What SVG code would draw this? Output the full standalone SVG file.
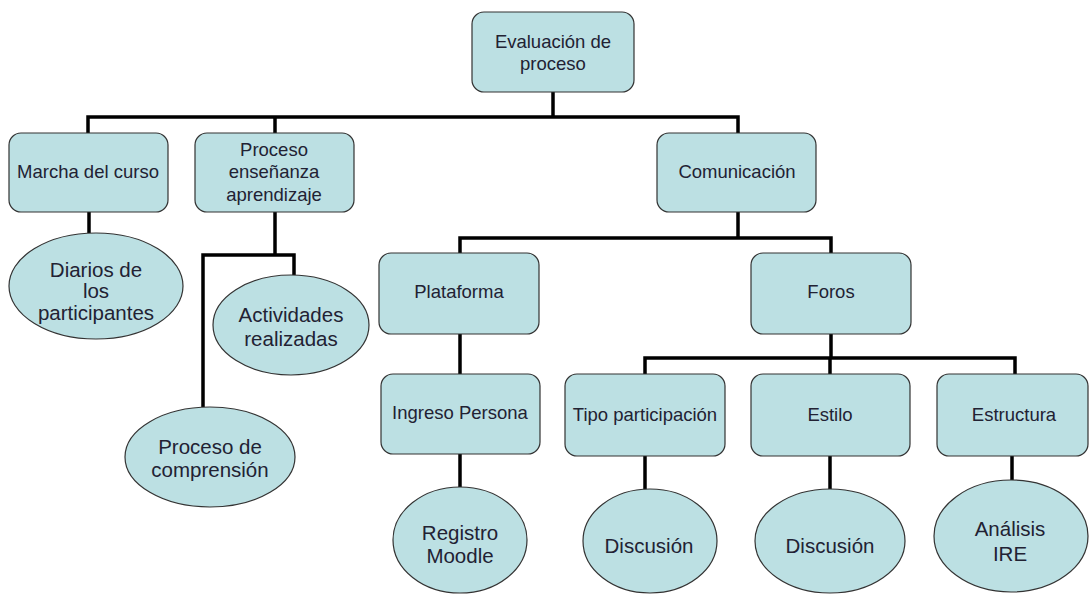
<svg xmlns="http://www.w3.org/2000/svg" width="1090" height="595" viewBox="0 0 1090 595">
  <style>
    .box { fill: #bce0e3; stroke: #333333; stroke-width: 1.2; }
    .ell { fill: #bce0e3; stroke: #333333; stroke-width: 1.2; }
    .t { font-family: "Liberation Sans", Arial, sans-serif; font-size: 18.5px; fill: #222233; text-anchor: middle; }
    .te { font-family: "Liberation Sans", Arial, sans-serif; font-size: 20.5px; fill: #222233; text-anchor: middle; }
    .conn { fill: none; stroke: #000000; stroke-width: 3.5; stroke-linejoin: miter; stroke-linecap: butt; }
  </style>
  <rect width="1090" height="595" fill="#ffffff"/>

  <!-- connectors -->
  <g id="connectors" class="conn">
    <path d="M553,92 V117"/>
    <path d="M88,133 V117 H738 V133"/>
    <path d="M275,117 V133"/>
    <path d="M89,212 V233"/>
    <path d="M275,212 V255"/>
    <path d="M203,407 V255 H294 V275"/>
    <path d="M738,212 V238"/>
    <path d="M460,253 V238 H831 V253"/>
    <path d="M460,334 V374"/>
    <path d="M460,454 V487"/>
    <path d="M831,334 V358"/>
    <path d="M645,374 V358 H1015 V374"/>
    <path d="M830,358 V374"/>
    <path d="M645,456 V490"/>
    <path d="M830,456 V490"/>
    <path d="M1012,456 V480"/>
  </g>

  <!-- root -->
  <g id="evaluacion">
    <rect class="box" x="472" y="12" width="162" height="80" rx="12"/>
    <text class="t" x="553" y="48">Evaluación de</text>
    <text class="t" x="553" y="70">proceso</text>
  </g>

  <!-- first level -->
  <g id="marcha">
    <rect class="box" x="9" y="133" width="159" height="79" rx="12"/>
    <text class="t" x="88" y="178">Marcha del curso</text>
  </g>
  <g id="proceso-ea">
    <rect class="box" x="195" y="133" width="159" height="79" rx="12"/>
    <text class="t" x="274" y="156">Proceso</text>
    <text class="t" x="274" y="178">enseñanza</text>
    <text class="t" x="274" y="201">aprendizaje</text>
  </g>
  <g id="comunicacion">
    <rect class="box" x="657" y="133" width="159" height="79" rx="12"/>
    <text class="t" x="737" y="178">Comunicación</text>
  </g>

  <!-- leaves under Marcha / Proceso -->
  <g id="diarios">
    <ellipse class="ell" cx="96" cy="286" rx="87" ry="53"/>
    <text class="te" x="96" y="277">Diarios de</text>
    <text class="te" x="96" y="298">los</text>
    <text class="te" x="96" y="320">participantes</text>
  </g>
  <g id="actividades">
    <ellipse class="ell" cx="291" cy="325" rx="78" ry="50"/>
    <text class="te" x="291" y="322">Actividades</text>
    <text class="te" x="291" y="346">realizadas</text>
  </g>
  <g id="comprension">
    <ellipse class="ell" cx="210" cy="457" rx="85" ry="50"/>
    <text class="te" x="210" y="454">Proceso de</text>
    <text class="te" x="210" y="477">comprensión</text>
  </g>

  <!-- Comunicación branch -->
  <g id="plataforma">
    <rect class="box" x="379" y="253" width="160" height="81" rx="12"/>
    <text class="t" x="459" y="298">Plataforma</text>
  </g>
  <g id="foros">
    <rect class="box" x="751" y="253" width="160" height="81" rx="12"/>
    <text class="t" x="831" y="298">Foros</text>
  </g>
  <g id="ingreso">
    <rect class="box" x="381" y="374" width="159" height="80" rx="12"/>
    <text class="t" x="460" y="419">Ingreso Persona</text>
  </g>
  <g id="registro">
    <ellipse class="ell" cx="460" cy="540" rx="67" ry="53"/>
    <text class="te" x="460" y="540">Registro</text>
    <text class="te" x="460" y="563">Moodle</text>
  </g>

  <!-- Foros branch -->
  <g id="tipo">
    <rect class="box" x="565" y="374" width="160" height="82" rx="12"/>
    <text class="t" x="645" y="421">Tipo participación</text>
  </g>
  <g id="estilo">
    <rect class="box" x="751" y="374" width="159" height="82" rx="12"/>
    <text class="t" x="830" y="421">Estilo</text>
  </g>
  <g id="estructura">
    <rect class="box" x="937" y="374" width="151" height="82" rx="12"/>
    <text class="t" x="1014" y="421">Estructura</text>
  </g>
  <g id="discusion-1">
    <ellipse class="ell" cx="650" cy="541" rx="67" ry="52"/>
    <text class="te" x="649" y="553">Discusión</text>
  </g>
  <g id="discusion-2">
    <ellipse class="ell" cx="830" cy="541" rx="75" ry="52"/>
    <text class="te" x="830" y="553">Discusión</text>
  </g>
  <g id="analisis">
    <ellipse class="ell" cx="1011" cy="536" rx="77" ry="56"/>
    <text class="te" x="1010" y="536">Análisis</text>
    <text class="te" x="1010" y="561">IRE</text>
  </g>
</svg>
